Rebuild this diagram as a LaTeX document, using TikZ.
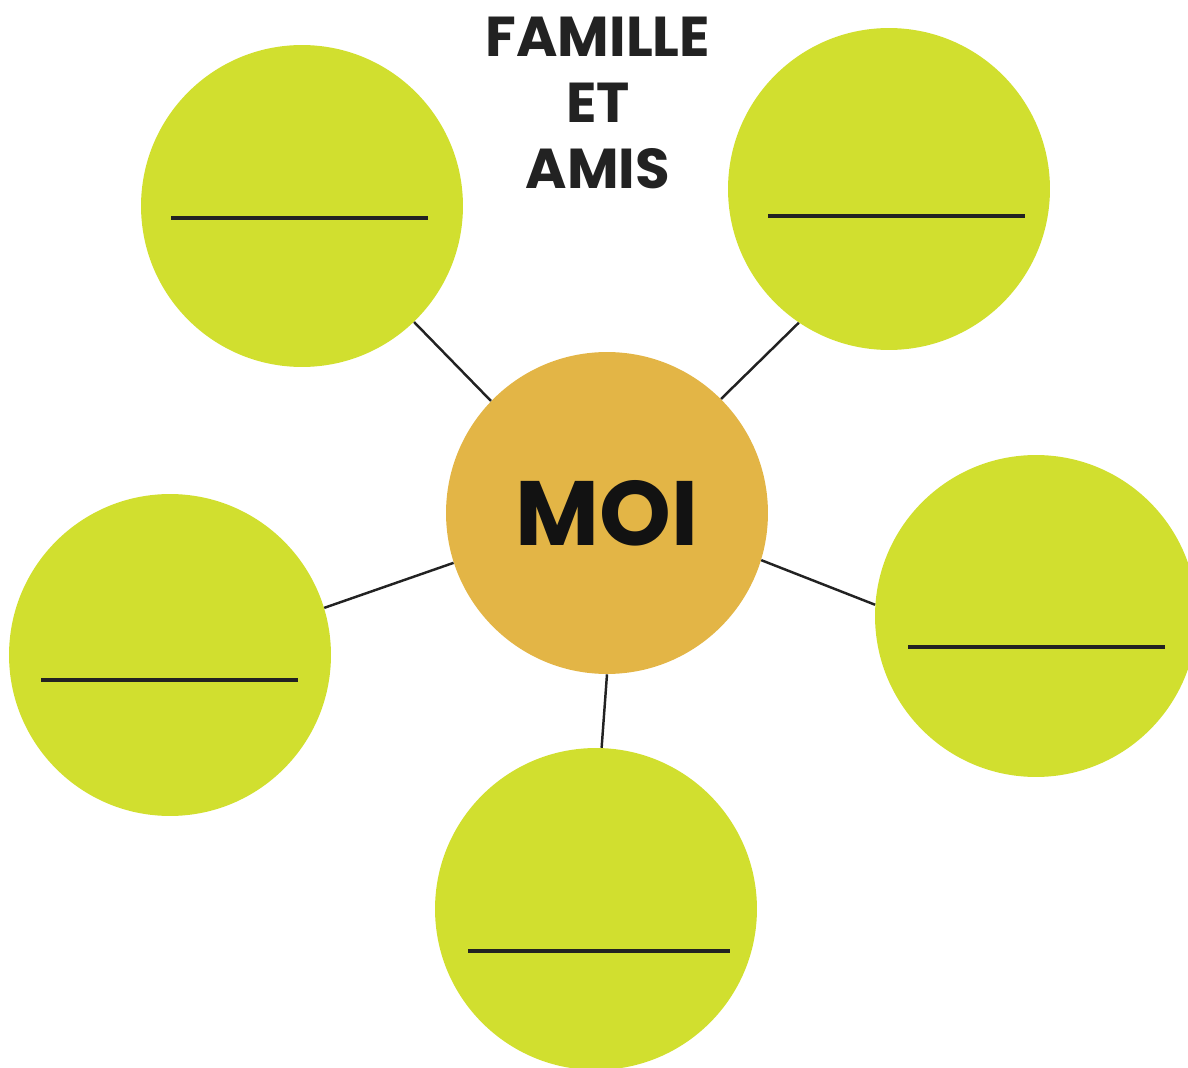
\documentclass[tikz,border=0pt]{standalone}
\usepackage{fontspec}
\newfontfamily\headfont{Poppins}
\usetikzlibrary{positioning}
\definecolor{bubblegreen}{HTML}{D1DF2F}
\definecolor{moiorange}{HTML}{E3B546}
\definecolor{inkgrey}{HTML}{222222}

\begin{document}
\begin{tikzpicture}[
  x=0.02cm, y=-0.02cm,
  bubble/.style={circle,fill=#1,draw=none,minimum size=6.44cm,inner sep=0pt},
  blank/.style={draw=inkgrey,line width=1.9pt},
  link/.style={draw=inkgrey,line width=1.4pt}
]
\useasboundingbox (0,0) rectangle (1188,1068);
\clip (0,0) rectangle (1188,1068);

\node[bubble=moiorange,font={\headfont\bfseries\fontsize{52}{60}\selectfont},
      text=black!93] (moi) at (607,513) {MOI};
\node[bubble=bubblegreen] (tl)  at (302,206) {};
\node[bubble=bubblegreen] (tr)  at (889,189) {};
\node[bubble=bubblegreen] (rt)  at (1036,616) {};
\node[bubble=bubblegreen] (lt)  at (170,655) {};
\node[bubble=bubblegreen] (bt)  at (596,909) {};

% writing lines
\draw[blank] ([shift={(-131,12)}]tl.center) -- ++(257,0);
\draw[blank] ([shift={(-121,27)}]tr.center) -- ++(257,0);
\draw[blank] ([shift={(-128,31)}]rt.center) -- ++(257,0);
\draw[blank] ([shift={(-129,25)}]lt.center) -- ++(257,0);
\draw[blank] ([shift={(-128,42)}]bt.center) -- ++(262,0);

% spokes
\draw[link] (moi.136) -- (tl.-46);
\draw[link] (moi.45)  -- (tr.236);
\draw[link] (moi.-17) -- (rt.176);
\draw[link] (moi.198) -- (lt.17);
\draw[link] (moi.-90) -- (bt.88);

\node[align=center,text=inkgrey,inner sep=0pt,
      font={\headfont\bfseries\fontsize{32}{37.4}\selectfont}] (title) at (598,103)
  {FAMILLE\\ET\\AMIS};
\end{tikzpicture}
\end{document}
